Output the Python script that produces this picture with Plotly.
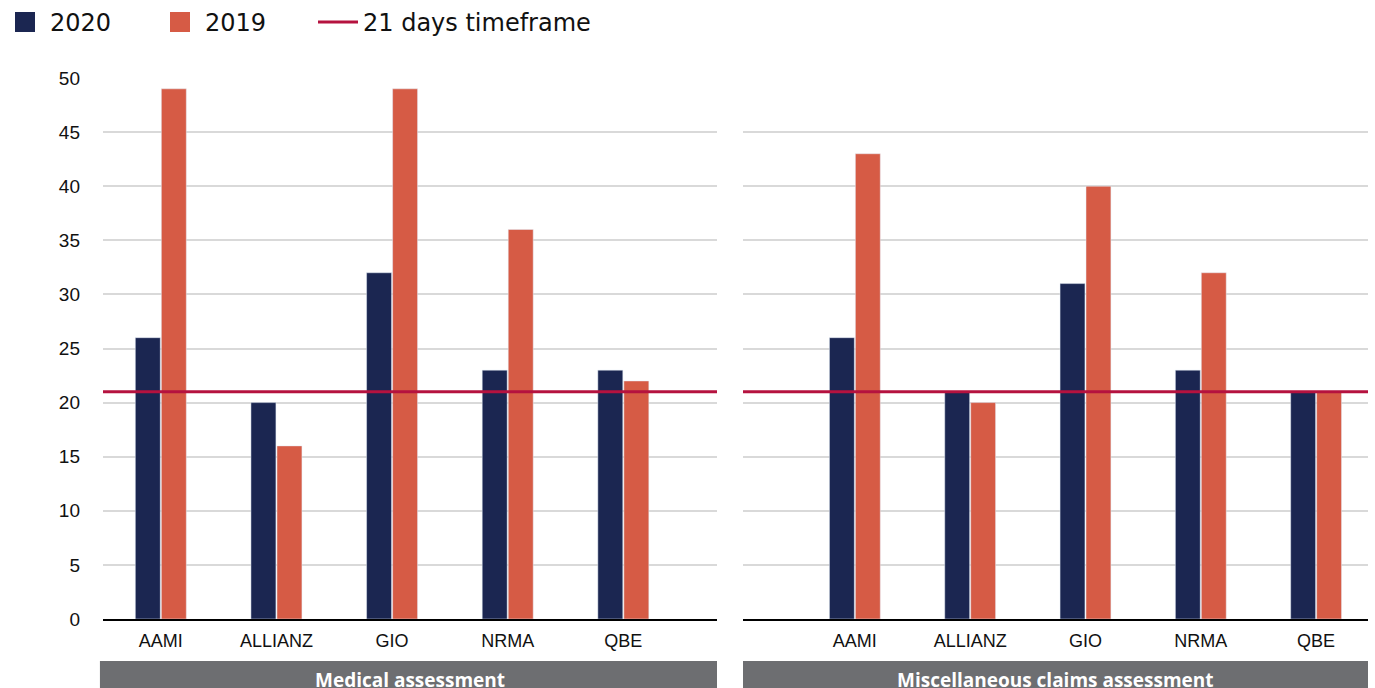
import plotly.graph_objects as go
from plotly.subplots import make_subplots

categories = ["AAMI", "ALLIANZ", "GIO", "NRMA", "QBE"]
medical_2020 = [26, 20, 32, 23, 23]
medical_2019 = [49, 16, 49, 36, 22]
misc_2020 = [26, 21, 31, 23, 21]
misc_2019 = [43, 20, 40, 32, 21]
panel_titles = ["Medical assessment", "Miscellaneous claims assessment"]
timeframe_days = 21
y_ticks = list(range(0, 55, 5))

NAVY = "#1b2651"
ORANGE = "#d65b45"
RED = "#b5123f"
GREY_BOX = "#6d6e71"
GRID = "#d9d9d9"

fig = make_subplots(rows=1, cols=2, shared_yaxes=False)

panels = [(medical_2020, medical_2019, 1), (misc_2020, misc_2019, 2)]
for v2020, v2019, col in panels:
    fig.add_trace(go.Bar(x=categories, y=v2020, marker_color=NAVY, showlegend=False,
                         name="2020"), row=1, col=col)
    fig.add_trace(go.Bar(x=categories, y=v2019, marker_color=ORANGE, showlegend=False,
                         name="2019"), row=1, col=col)

# legend-only entries, each in its own legend so they can be placed freely
fig.add_trace(go.Scatter(x=[None], y=[None], mode="markers", name="2020", legend="legend",
                         marker=dict(symbol="square", size=16, color=NAVY,
                                     line=dict(color=NAVY, width=4))))
fig.add_trace(go.Scatter(x=[None], y=[None], mode="markers", name="2019", legend="legend2",
                         marker=dict(symbol="square", size=16, color=ORANGE,
                                     line=dict(color=ORANGE, width=4))))
fig.add_trace(go.Scatter(x=[None], y=[None], mode="lines", name=f"{timeframe_days} days timeframe",
                         legend="legend3", line=dict(color=RED, width=3)))

# timeframe line across each panel
for xr, yr in [("x domain", "y"), ("x2 domain", "y2")]:
    fig.add_shape(type="line", xref=xr, yref=yr, x0=0, x1=1, y0=timeframe_days, y1=timeframe_days,
                  line=dict(color=RED, width=3), layer="above")

# panel label boxes
plot_h = 688 - 78 - 69
box_top = -(661 - 619) / plot_h
box_bot = -(700 - 619) / plot_h
text_y = -(680 - 619) / plot_h
for xr, x0, title in [("x domain", -0.005, panel_titles[0]), ("x2 domain", 0, panel_titles[1])]:
    fig.add_shape(type="rect", xref=xr, yref="paper", x0=x0, x1=1, y0=box_bot, y1=box_top,
                  fillcolor=GREY_BOX, line=dict(width=0), layer="above")
    fig.add_annotation(xref=xr, yref="paper", x=0.5, y=text_y, text=f"<b>{title}</b>",
                       showarrow=False, yanchor="middle",
                       font=dict(family="Open Sans", size=19, color="white"))

left_dom = [0, (717 - 103) / (1368 - 103)]
right_dom = [(743 - 103) / (1368 - 103), 1]

axis_common = dict(type="category", showgrid=False, showline=True, linecolor="black", linewidth=2,
                   ticks="", tickfont=dict(family="Liberation Sans", size=18, color="#111"),
                   ticklabelstandoff=4)

W = 1375
legend_common = dict(orientation="h", xref="container", yref="container", y=1,
                     xanchor="left", yanchor="top",
                     font=dict(family="DejaVu Sans", size=24, color="#111"),
                     itemsizing="trace", itemwidth=40)

fig.update_layout(
    xaxis=dict(domain=left_dom, range=[-0.5, 4.81], **axis_common),
    xaxis2=dict(domain=right_dom, range=[-0.97, 4.45], **axis_common),
    yaxis=dict(range=[0, 50], tickvals=y_ticks, showgrid=True, gridcolor=GRID, gridwidth=1.5,
               zeroline=False, ticks="", ticklabelstandoff=22,
               tickfont=dict(family="Liberation Sans", size=19, color="#111")),
    yaxis2=dict(range=[0, 50], tickvals=y_ticks, showgrid=True, gridcolor=GRID, gridwidth=1.5,
                zeroline=False, showticklabels=False),
    barmode="group",
    bargap=0.55,
    bargroupgap=0.04,
    plot_bgcolor="white",
    paper_bgcolor="white",
    width=W,
    height=688,
    margin=dict(l=103, r=7, t=78, b=69),
    showlegend=True,
    legend=dict(x=-4 / W, **legend_common),
    legend2=dict(x=155 / W, **legend_common),
    legend3=dict(x=313 / W, **legend_common),
)

fig.write_html("out.html", config={"displayModeBar": False},
               post_script="document.body.style.margin='0';document.body.style.overflow='hidden';")
